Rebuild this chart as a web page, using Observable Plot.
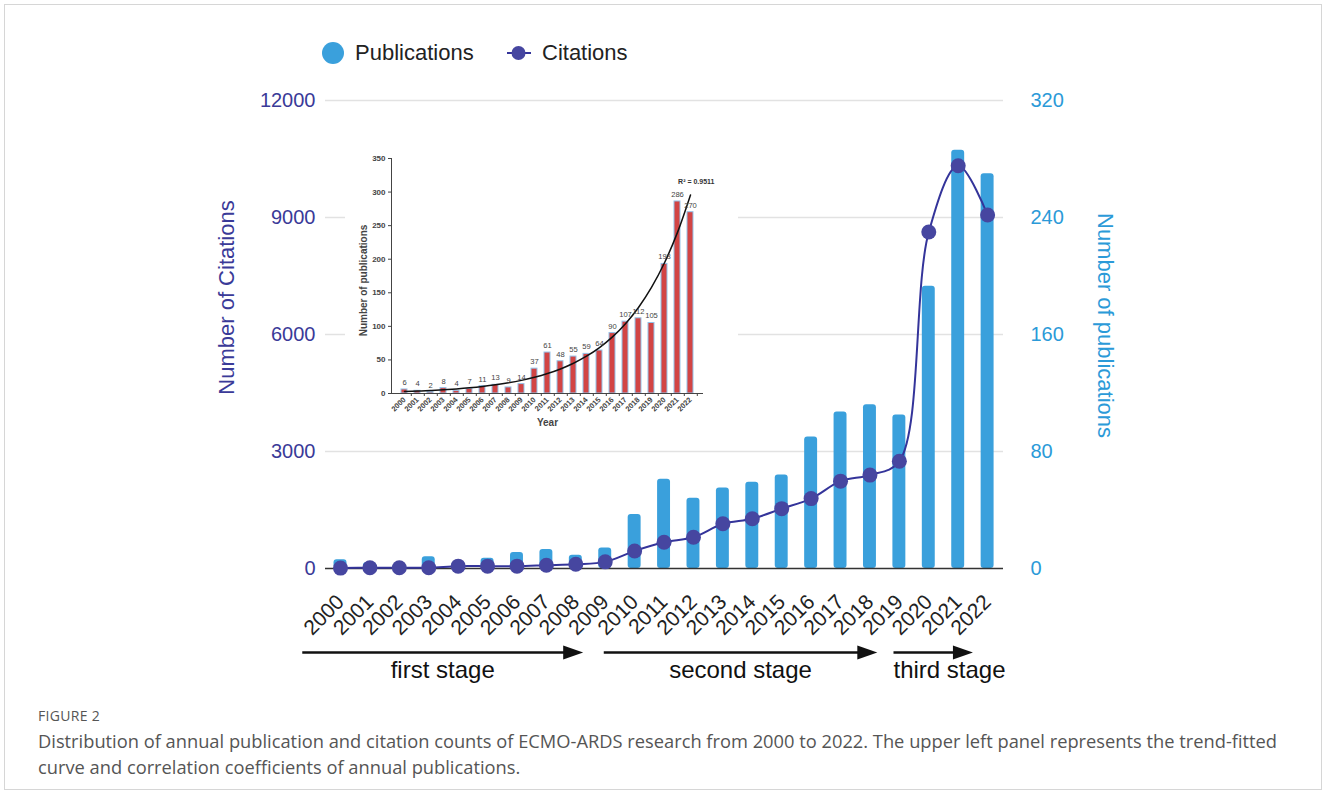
<!DOCTYPE html>
<html>
<head>
<meta charset="utf-8">
<script src="https://cdn.jsdelivr.net/npm/d3@7"></script>
<script src="https://cdn.jsdelivr.net/npm/@observablehq/plot@0.6"></script>
<style>
  html, body { margin: 0; padding: 0; background: #fff; }
  #figure { position: relative; width: 1328px; height: 796px; overflow: hidden; font-family: "Liberation Sans", Arial, sans-serif; }
  #border { position: absolute; left: 4px; top: 4px; width: 1318px; height: 786px; border: 1px solid #d6d6d6; box-sizing: border-box; }
  #main, #stages, #inset { position: absolute; left: 0; top: 0; }
  #stages { top: 640px; }
  #inset { left: 345px; top: 145px; }
  .legend-item { position: absolute; font-size: 22px; color: #222; line-height: 26px; top: 40px; }
  #cap-label { position: absolute; left: 38px; top: 706px; font-family: "Open Sans", sans-serif; font-size: 14px; color: #555; letter-spacing: 0.3px; }
  #caption { position: absolute; left: 38px; top: 728px; font-family: "Open Sans", sans-serif; font-size: 18.3px; line-height: 26px; color: #555; white-space: nowrap; }
</style>
</head>
<body>
<div id="figure">
  <div id="border"></div>
  <svg class="legend-item" style="left:320px;top:40px" width="26" height="26"><circle cx="13" cy="13" r="11" fill="#3aa0dc"/></svg>
  <div class="legend-item" style="left:355px">Publications</div>
  <svg class="legend-item" style="left:505px;top:40px" width="28" height="26"><line x1="2" x2="26" y1="13" y2="13" stroke="#34349a" stroke-width="2"/><circle cx="13.5" cy="13" r="7" fill="#4646a0"/></svg>
  <div class="legend-item" style="left:542px">Citations</div>
  <div id="main"></div>
  <div id="stages"></div>
  <div id="inset"></div>
  <div id="cap-label">FIGURE 2</div>
  <div id="caption">Distribution of annual publication and citation counts of ECMO-ARDS research from 2000 to 2022. The upper left panel represents the trend-fitted<br>curve and correlation coefficients of annual publications.</div>
</div>
<script>
// Annual counts, 2000–2022
const years = [2000, 2001, 2002, 2003, 2004, 2005, 2006, 2007, 2008, 2009, 2010, 2011,
               2012, 2013, 2014, 2015, 2016, 2017, 2018, 2019, 2020, 2021, 2022];
const publications = [6, 4, 2, 8, 4, 7, 11, 13, 9, 14, 37, 61, 48, 55, 59, 64, 90, 107, 112, 105, 193, 286, 270];
const citations = [10, 20, 20, 20, 60, 60, 60, 85, 110, 170, 450, 672, 802, 1146, 1275, 1534, 1792, 2240, 2395, 2750, 8627, 10326, 9064];

// Axis ticks
const citationTicks = [0, 3000, 6000, 9000, 12000];
const publicationTicks = [0, 80, 160, 240, 320];
const insetTicks = [0, 50, 100, 150, 200, 250, 300, 350];

// Research stages (spans in year units)
const stageNames = ["first stage", "second stage", "third stage"];
const stageFrom = [1998.7, 2008.95, 2018.8];
const stageTo = [2008.25, 2018.25, 2021.5];

const rSquared = 0.9511;

const font = "'Liberation Sans', Arial, sans-serif";
const rows = years.map((year, i) => ({year, pubs: publications[i], cites: citations[i]}));
const k = citationTicks[citationTicks.length - 1] / publicationTicks[publicationTicks.length - 1];
const xDomain = [1999.49, 2022.54];

// Main dual-axis chart: publications as bars (right axis), citations as line (left axis)
const main = Plot.plot({
  width: 1328, height: 640,
  marginLeft: 325, marginRight: 325, marginTop: 100, marginBottom: 72,
  style: {fontFamily: font, background: "transparent", overflow: "visible"},
  x: {domain: xDomain},
  y: {domain: [0, 12000]},
  marks: [
    Plot.ruleY(citationTicks.slice(1), {stroke: "#e2e2e2", strokeWidth: 1.5}),
    Plot.rectY(rows, {x1: d => d.year - 0.22, x2: d => d.year + 0.22, y1: () => 0, y2: d => d.pubs * k, fill: "#3aa0dc", rx: 3}),
    Plot.ruleY([0], {stroke: "#333", strokeWidth: 1.5}),
    Plot.line(rows, {x: "year", y: "cites", stroke: "#34349a", strokeWidth: 2, curve: "catmull-rom"}),
    Plot.dot(rows, {x: "year", y: "cites", r: 7.5, fill: "#4646a0"}),
    Plot.axisY(citationTicks, {anchor: "left", tickSize: 0, tickPadding: 10, fontSize: 20, color: "#3a3a98", tickFormat: d => String(d), label: null}),
    Plot.axisY(publicationTicks.map(v => v * k), {anchor: "right", tickSize: 0, tickPadding: 27, fontSize: 20, color: "#2b9ad8", tickFormat: d => String(d / k), label: null}),
    Plot.axisX(years, {tickSize: 0, tickPadding: 30, tickRotate: -45, fontSize: 21, color: "#222", tickFormat: d => String(d), label: null}),
    Plot.text(["Number of Citations"], {frameAnchor: "left", textAnchor: "middle", rotate: -90, dx: -99, dy: -37, fontSize: 22, fill: "#3a3a98"}),
    Plot.text(["Number of publications"], {frameAnchor: "right", textAnchor: "middle", rotate: 90, dx: 102, dy: -9, fontSize: 22, fill: "#2b9ad8"})
  ]
});
document.getElementById("main").append(main);

// Stage arrows beneath the year axis
const stages = stageNames.map((name, i) => ({name, from: stageFrom[i], to: stageTo[i]}));
const arrowHead = {
  draw(context, size) {
    const r = Math.sqrt(size / Math.PI);
    context.moveTo(r, 0);
    context.lineTo(-r, -0.7 * r);
    context.lineTo(-r, 0.7 * r);
    context.closePath();
  }
};
const stagePlot = Plot.plot({
  width: 1328, height: 50,
  marginLeft: 325, marginRight: 325, marginTop: 0, marginBottom: 0,
  style: {fontFamily: font, background: "transparent", overflow: "visible"},
  x: {domain: xDomain, axis: null},
  y: {domain: [0, 1], range: [12, 30], axis: null},
  marks: [
    Plot.link(stages, {x1: "from", x2: d => d.to - 0.3, y1: () => 0, y2: () => 0, stroke: "#111", strokeWidth: 2.5}),
    Plot.dot(stages, {x: "to", y: () => 0, symbol: arrowHead, r: 10, dx: -10, fill: "#111", stroke: "none"}),
    Plot.text(stages.filter(d => d.to - d.from > 4), {x: d => (d.from + d.to) / 2, y: () => 1, text: "name", fontSize: 24, fill: "#111"}),
    Plot.text(stages.filter(d => d.to - d.from <= 4), {x: "from", y: () => 1, text: "name", fontSize: 24, fill: "#111", textAnchor: "start"})
  ]
});
document.getElementById("stages").append(stagePlot);

// Inset: publications per year with exponential trend (log-linear least squares)
const t = years.map(y => y - years[0]);
const logs = publications.map(v => Math.log(v));
const tMean = d3.mean(t), lMean = d3.mean(logs);
const b = d3.sum(t, (ti, i) => (ti - tMean) * (logs[i] - lMean)) / d3.sum(t, ti => (ti - tMean) ** 2);
const a = Math.exp(lMean - b * tMean);
const trend = years.map((year, i) => ({year, value: a * Math.exp(b * t[i])}));

const inset = Plot.plot({
  width: 393, height: 295,
  marginLeft: 46, marginRight: 35, marginTop: 13, marginBottom: 47,
  style: {fontFamily: font, background: "#fff", overflow: "visible"},
  x: {type: "band", domain: years, paddingInner: 0.55, paddingOuter: 0.275},
  y: {domain: [0, 350]},
  marks: [
    Plot.barY(rows, {x: "year", y: "pubs", fill: "#d24444", stroke: "#93c3ea", strokeWidth: 1}),
    Plot.ruleY([0], {stroke: "#444"}),
    Plot.frame({anchor: "left", stroke: "#444"}),
    Plot.line(trend, {x: "year", y: "value", curve: "catmull-rom", stroke: "#111", strokeWidth: 1.5}),
    Plot.text(rows, {x: "year", y: "pubs", text: d => String(d.pubs), dy: -7, fontSize: 7.6, fill: "#444"}),
    Plot.axisY(insetTicks, {tickSize: 3, tickPadding: 3, fontSize: 8, fontWeight: "bold", color: "#444", label: null}),
    Plot.axisX({tickSize: 3, dx: 6.8, tickFormat: () => "", color: "#444", label: null}),
    Plot.axisX({tickSize: 0, tickPadding: 5, tickRotate: -45, fontSize: 7.5, fontWeight: "bold", color: "#444", tickFormat: d => String(d), label: null}),
    Plot.text(["Year"], {frameAnchor: "bottom", dy: 32, fontSize: 10, fontWeight: "bold", fill: "#444"}),
    Plot.text(["Number of publications"], {frameAnchor: "left", textAnchor: "middle", rotate: -90, dx: -28, dy: 4.5, fontSize: 10, fontWeight: "bold", fill: "#444"}),
    Plot.text([`R² = ${rSquared}`], {frameAnchor: "top-right", textAnchor: "end", dx: 11, dy: 21, fontSize: 7, fontWeight: "bold", fill: "#333"})
  ]
});
document.getElementById("inset").append(inset);
</script>
</body>
</html>
